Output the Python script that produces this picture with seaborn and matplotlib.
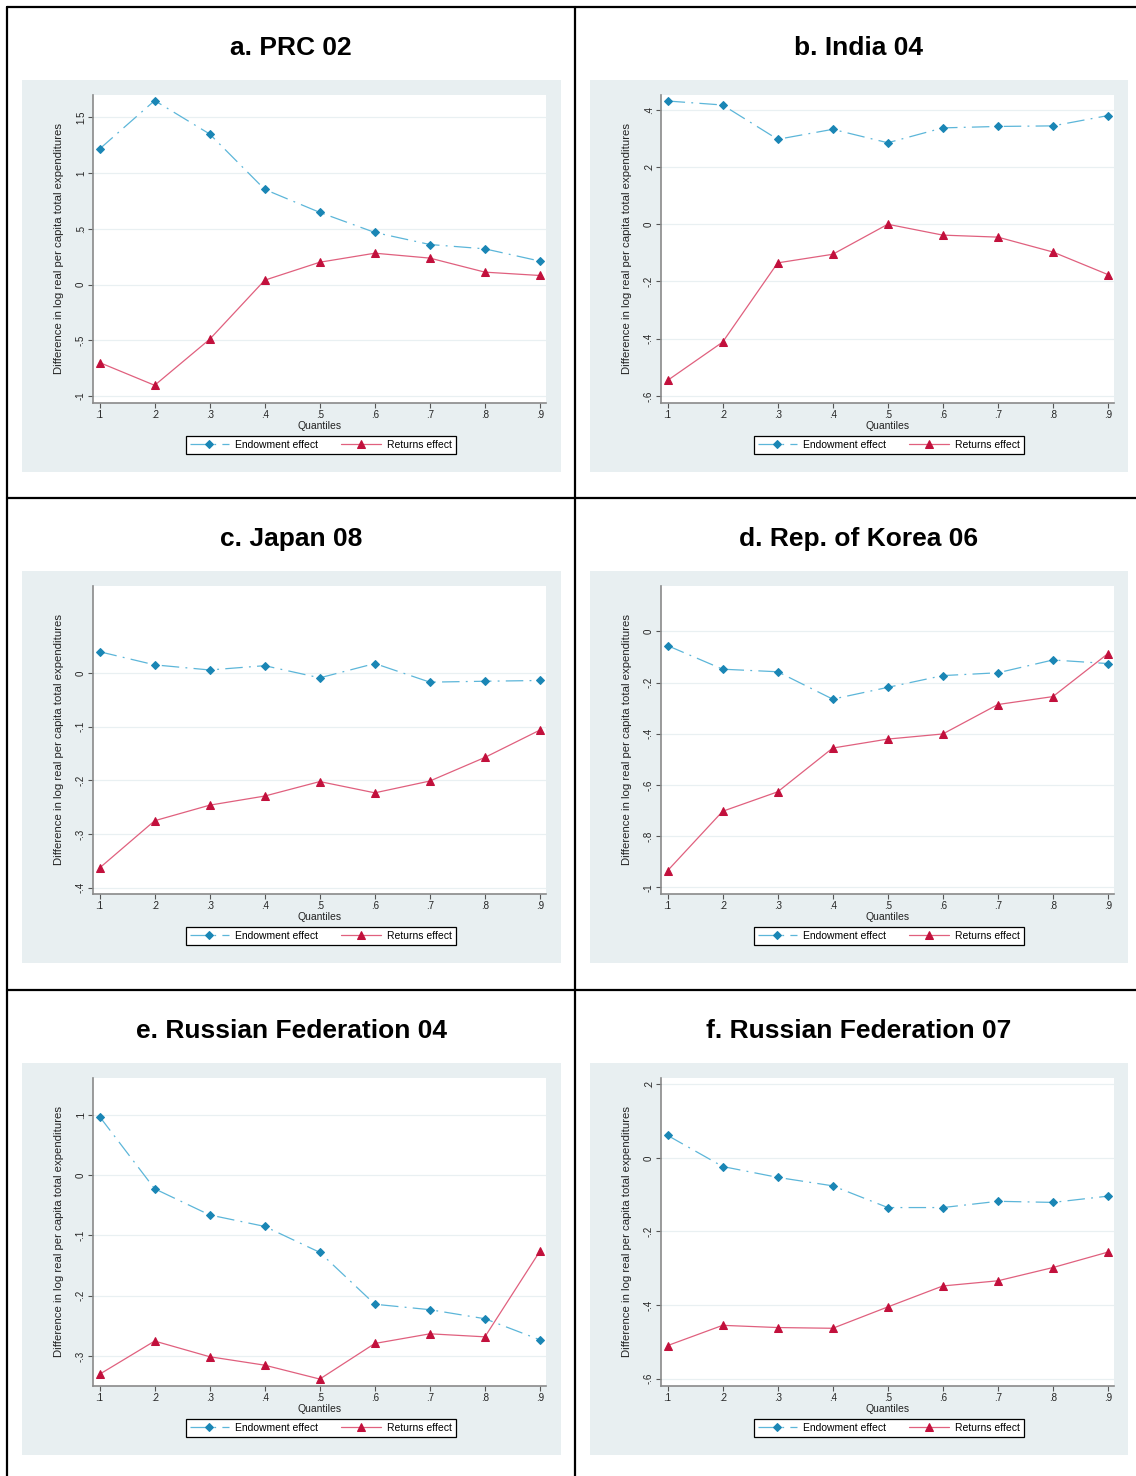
import numpy as np
import pandas as pd
import matplotlib
matplotlib.use("Agg")
import matplotlib.pyplot as plt
from matplotlib.lines import Line2D
from matplotlib.patches import Rectangle
import seaborn as sns

# data (quantiles .1 - .9)
quantiles = [0.1, 0.2, 0.3, 0.4, 0.5, 0.6, 0.7, 0.8, 0.9]
titles = ["a. PRC 02", "b. India 04", "c. Japan 08",
          "d. Rep. of Korea 06", "e. Russian Federation 04", "f. Russian Federation 07"]

endow_prc = [1.216, 1.65, 1.35, 0.853, 0.647, 0.467, 0.359, 0.32, 0.21]
returns_prc = [-0.70, -0.904, -0.491, 0.039, 0.20, 0.281, 0.237, 0.111, 0.081]

endow_ind = [0.431, 0.417, 0.297, 0.332, 0.285, 0.337, 0.342, 0.344, 0.380]
returns_ind = [-0.546, -0.412, -0.135, -0.105, 0.0, -0.038, -0.045, -0.097, -0.176]

endow_jpn = [0.040, 0.0155, 0.006, 0.014, -0.0087, 0.018, -0.0167, -0.015, -0.0136]
returns_jpn = [-0.363, -0.275, -0.246, -0.229, -0.202, -0.223, -0.201, -0.157, -0.106]

endow_kor = [-0.056, -0.148, -0.158, -0.265, -0.219, -0.173, -0.162, -0.112, -0.126]
returns_kor = [-0.935, -0.703, -0.627, -0.456, -0.421, -0.401, -0.286, -0.255, -0.087]

endow_rus04 = [0.097, -0.0226, -0.066, -0.085, -0.128, -0.214, -0.223, -0.238, -0.273]
returns_rus04 = [-0.330, -0.275, -0.301, -0.315, -0.338, -0.279, -0.263, -0.268, -0.126]

endow_rus07 = [0.061, -0.0235, -0.053, -0.076, -0.135, -0.135, -0.118, -0.121, -0.104]
returns_rus07 = [-0.510, -0.455, -0.461, -0.463, -0.405, -0.348, -0.334, -0.298, -0.256]

endow_all = [endow_prc, endow_ind, endow_jpn, endow_kor, endow_rus04, endow_rus07]
returns_all = [returns_prc, returns_ind, returns_jpn, returns_kor, returns_rus04, returns_rus07]

yticks_all = [
    [-1, -0.5, 0, 0.5, 1, 1.5],
    [-0.6, -0.4, -0.2, 0, 0.2, 0.4],
    [-0.4, -0.3, -0.2, -0.1, 0],
    [-1, -0.8, -0.6, -0.4, -0.2, 0],
    [-0.3, -0.2, -0.1, 0, 0.1],
    [-0.6, -0.4, -0.2, 0, 0.2],
]
ylims_all = [(-1.06, 1.70), (-0.624, 0.452), (-0.411, 0.1625),
             (-1.025, 0.177), (-0.349, 0.161), (-0.619, 0.217)]

sns.set_style("white")
plt.rcParams['font.family'] = ['Liberation Sans', 'DejaVu Sans']
plt.rcParams['text.color'] = 'black'

W, H = 1136, 1476
fig = plt.figure(figsize=(W / 100, H / 100), dpi=100)

BG = '#e8eff1'
ENDOW_LINE = '#5cb6d9'
ENDOW_MARK = '#1a86b5'
RET_LINE = '#e0607e'
RET_MARK = '#c2103c'
AXCOL = '#8a8a8a'


def stata_fmt(v):
    if abs(v) < 1e-9:
        return "0"
    s = f"{v:g}"
    s = s.replace("0.", ".")
    return s


def px_rect(x0, y0, x1, y1):
    # pixel box -> figure coords [left, bottom, width, height]
    return [x0 / W, 1 - y1 / H, (x1 - x0) / W, (y1 - y0) / H]


col_x = [(22, 561, 93, 546, 291), (590, 1128, 661, 1114, 859)]
row_y = [0, 491, 983]

for i in range(6):
    r, c = divmod(i, 2)
    gx0, gx1, px0, px1, tx = col_x[c]
    dy = row_y[r]

    # light gray panel background
    fig.patches.append(Rectangle((gx0 / W, 1 - (472 + dy) / H), (gx1 - gx0) / W, 392 / H,
                                 transform=fig.transFigure, facecolor=BG,
                                 edgecolor='none', zorder=-5))
    fig.text(tx / W, 1 - (48 + dy) / H, titles[i], ha='center', va='center',
             fontsize=19, fontweight='bold', color='black')

    ax = fig.add_axes(px_rect(px0, 95 + dy, px1, 402.7 + dy))
    ax.set_zorder(5)
    ax.set_facecolor('white')

    df = pd.DataFrame({"q": quantiles, "endow": endow_all[i], "ret": returns_all[i]})
    sns.lineplot(data=df, x="q", y="endow", ax=ax, color=ENDOW_LINE, linewidth=0.9,
                 linestyle=(0, (14, 5, 1.5, 5)), marker='D', markersize=4,
                 markerfacecolor=ENDOW_MARK, markeredgecolor=ENDOW_MARK,
                 label="Endowment effect", zorder=3)
    sns.lineplot(data=df, x="q", y="ret", ax=ax, color=RET_LINE, linewidth=0.9,
                 marker='^', markersize=5.8,
                 markerfacecolor=RET_MARK, markeredgecolor=RET_MARK,
                 label="Returns effect", zorder=3)

    ax.set_xlim(0.088, 0.911)
    ax.set_ylim(*ylims_all[i])
    ax.set_xticks(quantiles)
    ax.set_xticklabels([stata_fmt(q) for q in quantiles])
    ax.set_yticks(yticks_all[i])
    ax.set_yticklabels([stata_fmt(v) for v in yticks_all[i]], rotation=90, va='center')

    ax.grid(axis='y', color='#e9f0f2', linewidth=0.9)
    ax.grid(axis='x', visible=False)
    ax.set_axisbelow(True)
    for s in ['top', 'right']:
        ax.spines[s].set_visible(False)
    for s in ['left', 'bottom']:
        ax.spines[s].set_color(AXCOL)
        ax.spines[s].set_linewidth(1.2)
    ax.tick_params(axis='both', which='major', direction='out', length=3.5, width=0.8,
                   color='#555555', labelsize=7, pad=1.5, labelcolor='#222222',
                   left=True, bottom=True)

    ax.set_xlabel("Quantiles", fontsize=7.5, labelpad=1, color='#222222')
    ax.set_ylabel("Difference in log real per capita total expenditures",
                  fontsize=8.2, labelpad=9, color='#222222')

    leg = ax.legend(loc='center', bbox_to_anchor=(0.503, -0.1375), ncol=2,
                    fontsize=7.5, frameon=True, fancybox=False, framealpha=1,
                    edgecolor='black', handlelength=3.8, columnspacing=2.2,
                    handletextpad=0.6, borderpad=0.35, numpoints=1)
    leg.get_frame().set_linewidth(0.9)

# black frame lines between the panels
def hline(y, x0=7, x1=W):
    fig.add_artist(Line2D([x0 / W, x1 / W], [1 - y / H, 1 - y / H],
                          transform=fig.transFigure, color='black', linewidth=1.6))


def vline(x, y0=7, y1=H):
    fig.add_artist(Line2D([x / W, x / W], [1 - y0 / H, 1 - y1 / H],
                          transform=fig.transFigure, color='black', linewidth=1.6))


hline(7)
hline(497.5)
hline(990)
vline(7)
vline(575)

fig.savefig("out.png", dpi=100, facecolor='white')
